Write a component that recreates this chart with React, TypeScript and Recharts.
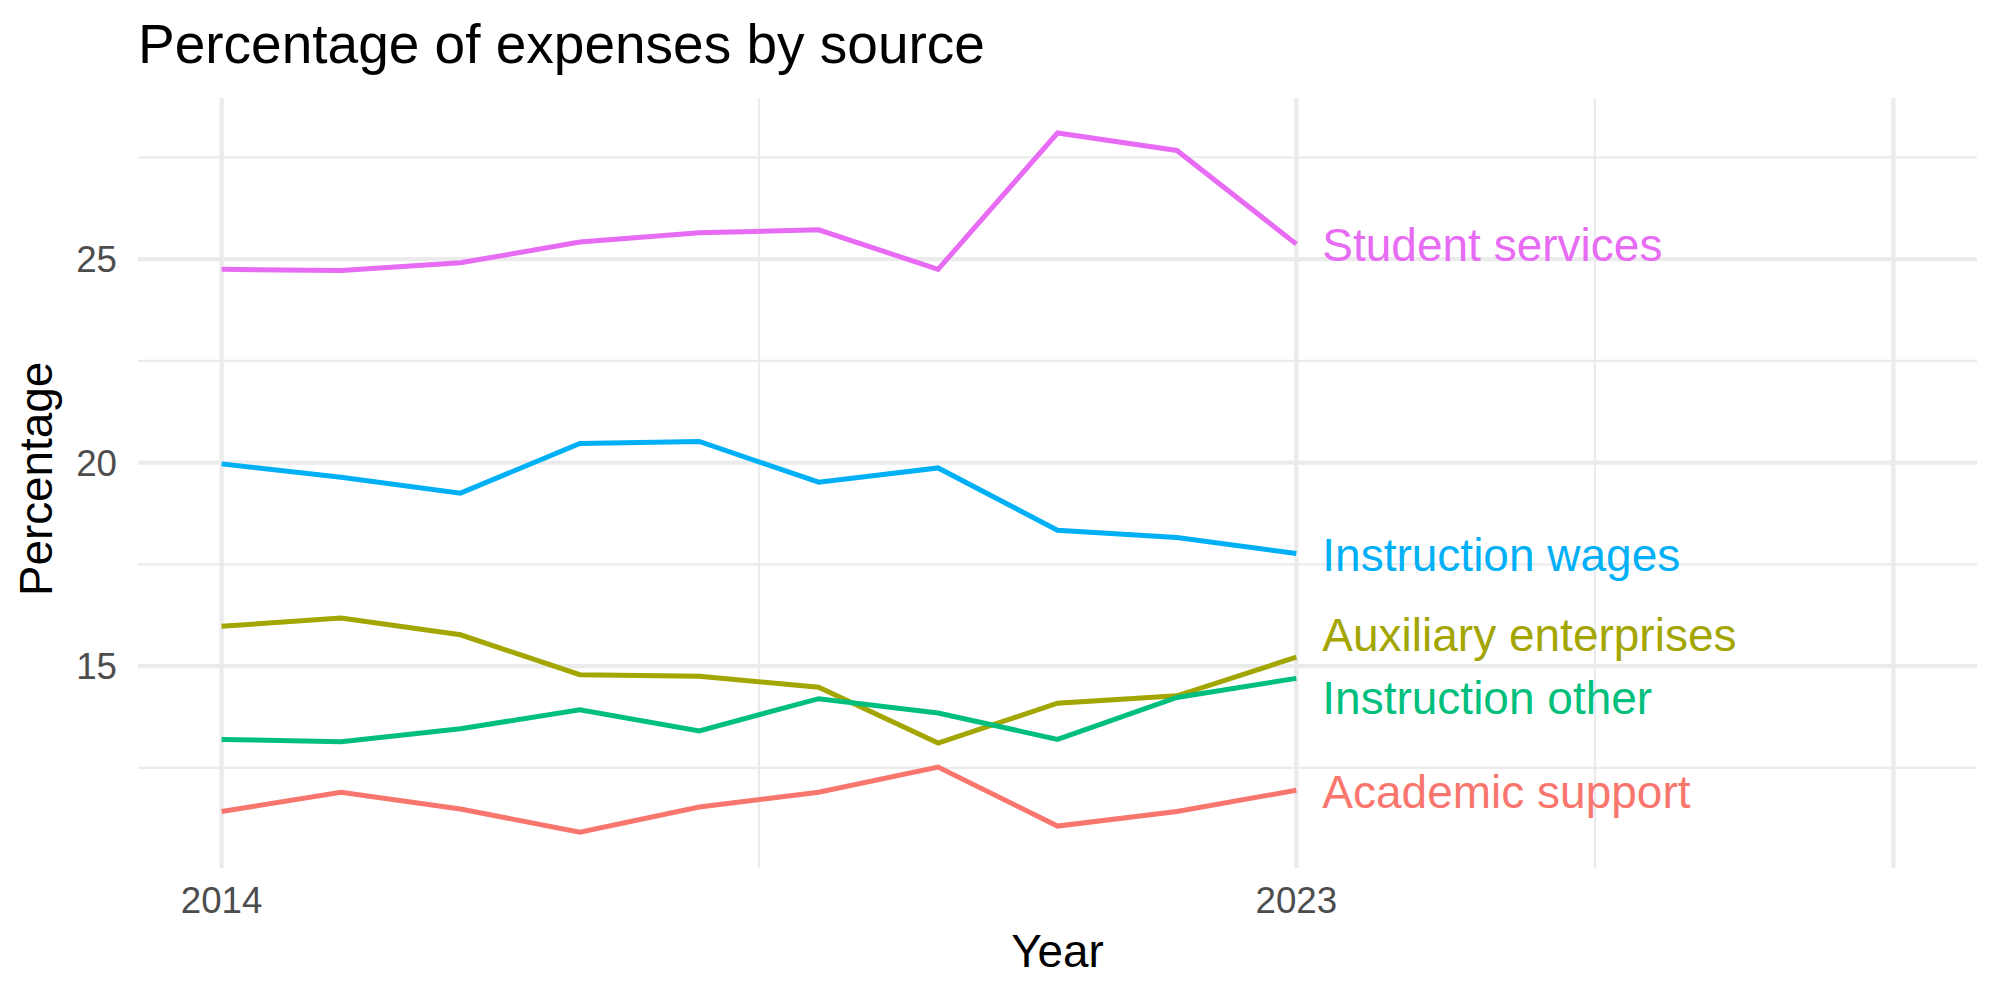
import { LineChart, Line, XAxis, YAxis, CartesianGrid, ReferenceDot } from 'recharts'

const years = [2014, 2015, 2016, 2017, 2018, 2019, 2020, 2021, 2022, 2023]
const academicSupport = [11.43, 11.9, 11.49, 10.92, 11.54, 11.9, 12.52, 11.07, 11.43, 11.95]
const auxiliaryEnterprises = [15.98, 16.18, 15.77, 14.79, 14.75, 14.48, 13.11, 14.09, 14.27, 15.22]
const instructionOther = [13.2, 13.14, 13.46, 13.93, 13.41, 14.2, 13.85, 13.2, 14.23, 14.7]
const instructionWages = [19.97, 19.64, 19.25, 20.47, 20.52, 19.52, 19.87, 18.34, 18.16, 17.77]
const studentServices = [24.75, 24.72, 24.91, 25.42, 25.65, 25.72, 24.75, 28.1, 27.67, 25.37]

// end labels, nudged apart where they would collide (ggrepel-ish)
const labelNames = ['Academic support', 'Auxiliary enterprises', 'Instruction other', 'Instruction wages', 'Student services']
const labelY = [11.93, 15.77, 14.22, 17.74, 25.37]
const labelYear = 2023

const xTicks = [2014, 2023]
const yTicks = [15, 20, 25]
const xMajor = [2014, 2023, 2028]
const xMinor = [2018.5, 2025.5]
const yMajor = [15, 20, 25]
const yMinor = [12.5, 17.5, 22.5, 27.5]

const SERIES = [
  { key: 'academic', color: '#F8766D' },
  { key: 'auxiliary', color: '#A3A500' },
  { key: 'instrOther', color: '#00BF7D' },
  { key: 'instrWages', color: '#00B0F6' },
  { key: 'student', color: '#E76BF3' },
]

const data = years.map((year, i) => ({
  year,
  academic: academicSupport[i],
  auxiliary: auxiliaryEnterprises[i],
  instrOther: instructionOther[i],
  instrWages: instructionWages[i],
  student: studentServices[i],
}))

const FONT = '"Liberation Sans", Arial, Helvetica, sans-serif'
const GRID = '#EBEBEB'
const TICK = { fill: '#4D4D4D', fontSize: 36.7, fontFamily: FONT }

export default function App() {
  return (
    <div style={{ position: 'absolute', left: 0, top: 0, width: 2000, height: 1000, background: '#fff' }}>
      <LineChart
        width={2000}
        height={1000}
        data={data}
        margin={{ top: 98, right: 23, bottom: 0, left: 0 }}
      >
        <CartesianGrid
          stroke={GRID}
          strokeWidth={2.2}
          horizontalValues={yMinor}
          verticalValues={xMinor}
        />
        <CartesianGrid
          stroke={GRID}
          strokeWidth={4.3}
          horizontalValues={yMajor}
          verticalValues={xMajor}
        />
        <XAxis
          type="number"
          dataKey="year"
          domain={[2013.3, 2028.7]}
          ticks={xTicks}
          height={132}
          axisLine={false}
          tickLine={false}
          tickMargin={13}
          tick={TICK}
        />
        <YAxis
          type="number"
          domain={[10.04, 28.96]}
          ticks={yTicks}
          width={138}
          axisLine={false}
          tickLine={false}
          tickMargin={15}
          tick={TICK}
        />
        {SERIES.map((s) => (
          <Line
            key={s.key}
            type="linear"
            dataKey={s.key}
            stroke={s.color}
            strokeWidth={5}
            dot={false}
            activeDot={false}
            isAnimationActive={false}
          />
        ))}
        {labelNames.map((name, i) => (
          <ReferenceDot
            key={name}
            x={labelYear}
            y={labelY[i]}
            r={0}
            ifOverflow="visible"
            shape={(p: any) => (
              <text
                x={p.cx + 26}
                y={p.cy + 16.5}
                fill={SERIES[i].color}
                fontSize={46}
                fontFamily={FONT}
              >
                {name}
              </text>
            )}
          />
        ))}
      </LineChart>
      <svg
        width={2000}
        height={1000}
        style={{ position: 'absolute', left: 0, top: 0, pointerEvents: 'none' }}
      >
        <text x={138} y={62.7} fontSize={55} fontFamily={FONT} fill="#000">
          Percentage of expenses by source
        </text>
        <text x={1057.5} y={966.7} fontSize={45.8} fontFamily={FONT} fill="#000" textAnchor="middle">
          Year
        </text>
        <text
          x={51.7}
          y={479}
          fontSize={45.8}
          fontFamily={FONT}
          fill="#000"
          textAnchor="middle"
          transform="rotate(-90 51.7 479)"
        >
          Percentage
        </text>
      </svg>
    </div>
  )
}
